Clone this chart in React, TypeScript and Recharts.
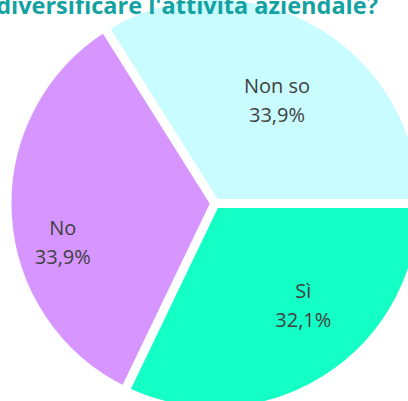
import { PieChart, Pie, Cell } from "recharts";

const CATEGORIES = ["Non so", "No", "Sì"];
const SHARES = [33.9, 33.9, 32.1];
const COLORS = ["#C9FCFF", "#D796FF", "#13FFC6"];
const TITLE = "diversificare l'attività aziendale?";

// label placement tweaks: [fraction of radius, angle shift in degrees]
const LABEL_POS: [number, number][] = [
  [0.58, -2],
  [0.755, 11],
  [0.645, 9],
];

const data = CATEGORIES.map((name, i) => ({ name, value: SHARES[i] }));

const RAD = Math.PI / 180;

function renderLabel(props: any) {
  const { cx, cy, midAngle, outerRadius, index, name, value } = props;
  const [frac, shift] = LABEL_POS[index];
  const r = outerRadius * frac;
  const a = (midAngle + shift) * RAD;
  const x = cx + r * Math.cos(a);
  const y = cy - r * Math.sin(a);
  return (
    <text x={x} y={y} textAnchor="middle" fill="#404040" fontSize={20}
      fontFamily="'Open Sans', sans-serif">
      <tspan x={x} dy={-7}>{name}</tspan>
      <tspan x={x} dy={29}>{value.toFixed(1).replace(".", ",")}%</tspan>
    </text>
  );
}

export default function App() {
  return (
    <div style={{ position: "fixed", left: 0, top: 0, width: 408, height: 401, background: "#fff" }}>
      <PieChart width={408} height={401} margin={{ top: 0, right: 0, bottom: 0, left: 0 }}>
        <Pie data={data} dataKey="value" nameKey="name" cx={215} cy={203.5}
          outerRadius={208} startAngle={0} endAngle={360}
          stroke="#ffffff" strokeWidth={9} labelLine={false} label={renderLabel}
          isAnimationActive={false}>
          {data.map((_, i) => (
            <Cell key={i} fill={COLORS[i]} />
          ))}
        </Pie>
      </PieChart>
      {/* title sits on top of the pie, its upper part cropped by the frame */}
      <svg width={408} height={30} style={{ position: "absolute", left: 0, top: 0, pointerEvents: "none" }}>
        <text x={187} y={14} textAnchor="middle" fill="#13A1A1" fontSize={23.5}
          fontWeight="bold" fontFamily="'Open Sans', sans-serif">
          {TITLE}
        </text>
      </svg>
    </div>
  );
}
